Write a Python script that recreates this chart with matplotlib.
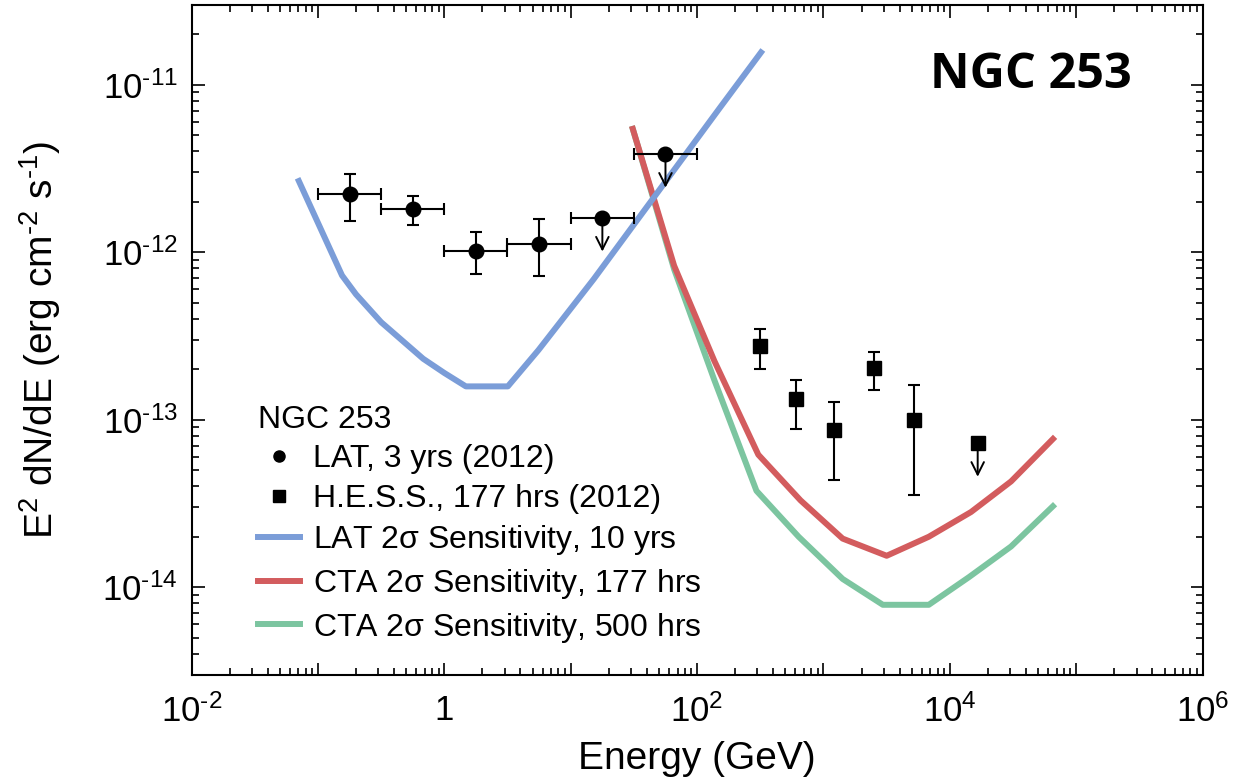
import matplotlib
matplotlib.use("Agg")
import matplotlib.pyplot as plt
import numpy as np
from matplotlib.lines import Line2D
from matplotlib.ticker import FixedLocator, FuncFormatter, NullFormatter

# Fermi-LAT 3 yr points (GeV, erg cm^-2 s^-1)
lat_e = [0.178, 0.562, 1.78, 5.62, 17.8, 56.2]
lat_elo = [0.1, 0.316, 1.0, 3.16, 10.0, 31.6]
lat_ehi = [0.316, 1.0, 3.16, 10.0, 31.6, 100.0]
lat_f = [2.23e-12, 1.81e-12, 1.01e-12, 1.12e-12, 1.60e-12, 3.85e-12]
lat_flo = [1.53e-12, 1.45e-12, 7.4e-13, 7.2e-13, 1.60e-12, 3.85e-12]
lat_fhi = [2.93e-12, 2.16e-12, 1.31e-12, 1.57e-12, 1.60e-12, 3.85e-12]
lat_ul = [False, False, False, False, True, True]

# H.E.S.S. 177 hrs points
hess_e = [312, 605, 1216, 2512, 5224, 16600]
hess_f = [2.74e-13, 1.33e-13, 8.7e-14, 2.04e-13, 1.0e-13, 7.24e-14]
hess_flo = [2.0e-13, 8.8e-14, 4.36e-14, 1.51e-13, 3.56e-14, 7.24e-14]
hess_fhi = [3.46e-13, 1.72e-13, 1.28e-13, 2.53e-13, 1.61e-13, 7.24e-14]
hess_ul = [False, False, False, False, False, True]

# sensitivity curves
lat_sens_e = [0.069, 0.155, 0.2, 0.316, 0.68, 1.0, 1.48, 3.18, 5.55, 15.2, 152, 331]
lat_sens_f = [2.76e-12, 7.26e-13, 5.6e-13, 3.82e-13, 2.31e-13, 1.9e-13, 1.58e-13,
              1.58e-13, 2.6e-13, 6.9e-13, 7.3e-12, 1.61e-11]
cta177_e = [30.5, 65.8, 137, 305, 658, 1418, 3162, 6810, 14700, 30500, 68000]
cta177_f = [5.66e-12, 8.3e-13, 2.24e-13, 6.18e-14, 3.3e-14, 1.95e-14,
            1.54e-14, 2.0e-14, 2.81e-14, 4.28e-14, 7.9e-14]
cta500_e = [30.5, 65.8, 137, 295, 636, 1418, 2950, 6810, 14200, 30500, 68000]
cta500_f = [5.66e-12, 7.9e-13, 1.72e-13, 3.76e-14, 2.0e-14, 1.12e-14,
            7.85e-15, 7.85e-15, 1.15e-14, 1.75e-14, 3.13e-14]

x_major = [1e-2, 1e-1, 1, 1e1, 1e2, 1e3, 1e4, 1e5, 1e6]
y_major = [1e-14, 1e-13, 1e-12, 1e-11]

BLUE = "#7b9dd8"
RED = "#d35c5e"
GREEN = "#7cc5a0"
UL_FACTOR = 0.63

plt.rcParams["font.family"] = ["Liberation Sans", "DejaVu Sans"]
plt.rcParams["mathtext.fontset"] = "custom"
plt.rcParams["mathtext.rm"] = "Liberation Sans"
plt.rcParams["mathtext.it"] = "Liberation Sans"
plt.rcParams["mathtext.default"] = "regular"

fig = plt.figure(figsize=(12.36, 7.81), dpi=100)
ax = fig.add_axes([0.155, 0.136, 0.818, 0.858])

ax.plot(cta500_e, cta500_f, color=GREEN, lw=4.3, solid_capstyle="butt", zorder=2)
ax.plot(cta177_e, cta177_f, color=RED, lw=4.3, solid_capstyle="butt", zorder=3)
ax.plot(lat_sens_e, lat_sens_f, color=BLUE, lw=4.3, solid_capstyle="butt", zorder=4)

lat_e_a = np.array(lat_e)
lat_f_a = np.array(lat_f)
xerr = [lat_e_a - np.array(lat_elo), np.array(lat_ehi) - lat_e_a]
yerr = [lat_f_a - np.array(lat_flo), np.array(lat_fhi) - lat_f_a]
ax.errorbar(lat_e, lat_f, xerr=xerr, yerr=yerr, fmt="o", color="black",
            ms=10.5, elinewidth=1.5, capsize=4, capthick=1.5, zorder=6)

hess_f_a = np.array(hess_f)
herr = [hess_f_a - np.array(hess_flo), np.array(hess_fhi) - hess_f_a]
ax.errorbar(hess_e, hess_f, yerr=herr, fmt="s", color="black",
            ms=10.5, elinewidth=1.5, capsize=4, capthick=1.5, zorder=6)

for xs, ys, uls in [(lat_e, lat_f, lat_ul), (hess_e, hess_f, hess_ul)]:
    for x, y, ul in zip(xs, ys, uls):
        if ul:
            ax.annotate("", xy=(x, y * UL_FACTOR), xytext=(x, y),
                        arrowprops=dict(arrowstyle="->,head_length=0.9,head_width=0.45",
                                        color="black", lw=1.4,
                                        shrinkA=0, shrinkB=0),
                        zorder=5)

ax.set_xscale("log")
ax.set_yscale("log")
ax.set_xlim(1e-2, 1e6)
ax.set_ylim(3e-15, 3e-11)


def sup(p):
    if p < 0:
        return r"$10^{\text{-}%d}$" % (-p)
    return r"$10^{%d}$" % p


def xfmt(v, pos):
    p = int(round(np.log10(v)))
    if p % 2:
        return ""
    if p == 0:
        return "1"
    return sup(p)


x_minor = [m * d for d in x_major[:-1] for m in range(2, 10)]
y_minor = [m * d for d in [1e-15] + y_major for m in range(2, 10)]
ax.xaxis.set_major_locator(FixedLocator(x_major))
ax.xaxis.set_minor_locator(FixedLocator(x_minor))
ax.xaxis.set_major_formatter(FuncFormatter(xfmt))
ax.xaxis.set_minor_formatter(NullFormatter())
ax.yaxis.set_major_locator(FixedLocator(y_major))
ax.yaxis.set_minor_locator(FixedLocator(y_minor))
ax.yaxis.set_major_formatter(FuncFormatter(lambda v, p: sup(int(round(np.log10(v))))))
ax.yaxis.set_minor_formatter(NullFormatter())

ax.tick_params(which="both", direction="in", top=True, right=True,
               labelsize=25, width=1.2)
ax.tick_params(which="major", length=9)
ax.tick_params(axis="x", which="major", pad=14)
ax.tick_params(axis="y", which="major", pad=10)
ax.tick_params(which="minor", length=5)
for s in ax.spines.values():
    s.set_linewidth(1.5)

ax.set_xlabel("Energy (GeV)", fontsize=28, labelpad=9)
ax.set_ylabel(r"E$^2$ dN/dE (erg cm$^{\text{-}2}$ s$^{\text{-}1}$)", fontsize=28, labelpad=28)

handles = [
    Line2D([], [], ls="none", marker="o", color="black", ms=8),
    Line2D([], [], ls="none", marker="s", color="black", ms=8),
    Line2D([], [], color=BLUE, lw=4.3),
    Line2D([], [], color=RED, lw=4.3),
    Line2D([], [], color=GREEN, lw=4.3),
]
labels = [
    "LAT, 3 yrs (2012)",
    "H.E.S.S., 177 hrs (2012)",
    r"LAT 2$\sigma$ Sensitivity, 10 yrs",
    r"CTA 2$\sigma$ Sensitivity, 177 hrs",
    r"CTA 2$\sigma$ Sensitivity, 500 hrs",
]
leg = ax.legend(handles, labels,
                title="NGC 253", loc="lower left", bbox_to_anchor=(0.066, 0.045),
                frameon=False, fontsize=23, title_fontsize=23,
                handlelength=1.3, handletextpad=0.4, labelspacing=0.3,
                borderaxespad=0, borderpad=0)
leg._legend_box.align = "left"

ax.text(0.73, 0.895, "NGC 253", transform=ax.transAxes, fontsize=35,
        fontweight="bold", family=["Open Sans", "DejaVu Sans"], ha="left", va="center")

fig.savefig("out.png", dpi=100)
